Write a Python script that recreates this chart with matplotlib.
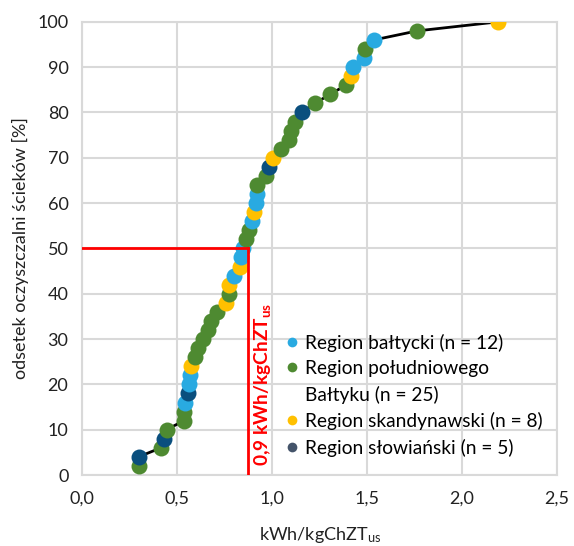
"""
Cumulative distribution of specific energy use at wastewater treatment plants,
coloured by region, with the median marked in red.
"""

import matplotlib.pyplot as plt
from matplotlib.lines import Line2D

plt.rcParams["font.family"] = ["Lato", "DejaVu Sans"]
plt.rcParams["mathtext.default"] = "regular"

# Share of plants [%] and energy use [kWh/kgChZT_us], sorted ascending
share = list(range(2, 101, 2))
energy = [
    0.296, 0.296, 0.414, 0.430, 0.444, 0.535, 0.535, 0.542, 0.555, 0.560,
    0.567, 0.572, 0.593, 0.610, 0.637, 0.660, 0.680, 0.707, 0.757, 0.773,
    0.774, 0.800, 0.830, 0.835, 0.845, 0.862, 0.878, 0.892, 0.904, 0.916,
    0.920, 0.922, 0.970, 0.985, 1.005, 1.049, 1.090, 1.100, 1.120, 1.155,
    1.225, 1.304, 1.388, 1.414, 1.423, 1.483, 1.490, 1.535, 1.763, 2.190,
]
# Region code of every plant: B bałtycki, P południowego Bałtyku,
# S skandynawski, L słowiański
region = list(
    "PLPLPPPBLBBSPPPPPPSPSBSBBPPBSBBPPLSPPPPLPPPSBBPBPS"
)

median_x = 0.87
median_y = 50

region_colors = {"B": "#29AAE1", "P": "#4E8A31", "S": "#FFC000", "L": "#0A4F7E"}

# Legend rows; the long southern-Baltic label wraps onto a row without a marker
legend_labels = [
    "Region bałtycki (n = 12)",
    "Region południowego",
    "Bałtyku (n = 25)",
    "Region skandynawski (n = 8)",
    "Region słowiański (n = 5)",
]
legend_colors = ["#29AAE1", "#4E8A31", "none", "#FFC000", "#44546A"]

fig = plt.figure(figsize=(5.74, 5.46), dpi=100)
ax = fig.add_axes([0.1434, 0.130, 0.827, 0.830])

# Connecting line under the markers
ax.plot(energy, share, color="black", lw=2, zorder=2)
for x, y, r in zip(energy, share, region):
    ax.plot(x, y, "o", ms=11.5, color=region_colors[r], mec="none", zorder=3)

# Median guide lines
ax.plot([0, median_x], [median_y, median_y], color="#FF0000", lw=2, zorder=4)
ax.plot([median_x, median_x], [0, median_y], color="#FF0000", lw=2, zorder=4)
label = f"{median_x:.1f}".replace(".", ",") + " kWh/kgChZT$_{us}$"
ax.text(0.95, 2.0, label, rotation=90, color="#FF0000", fontsize=13.8,
        fontweight="bold", ha="center", va="bottom", zorder=5)

ax.set_xlim(0, 2.5)
ax.set_ylim(0, 100)
ax.set_xticks([0, 0.5, 1.0, 1.5, 2.0, 2.5])
ax.set_xticklabels(["0,0", "0,5", "1,0", "1,5", "2,0", "2,5"])
ax.set_yticks(range(0, 101, 10))
ax.tick_params(length=0, labelsize=13, colors="#222222")
ax.tick_params(axis="x", pad=11.5)
ax.tick_params(axis="y", pad=10)
ax.grid(True, color="#D9D9D9", lw=1.5, zorder=0)
ax.set_axisbelow(True)
for spine in ax.spines.values():
    spine.set_color("#D9D9D9")
    spine.set_linewidth(1.5)

ax.set_xlabel("kWh/kgChZT$_{us}$", fontsize=13, color="#222222", labelpad=13)
ax.set_ylabel("odsetek oczyszczalni ścieków [%]", fontsize=13,
              color="#222222", labelpad=6)

handles = [
    Line2D([], [], marker="o", ls="none", ms=7, color=c, mec="none")
    for c in legend_colors
]
ax.legend(handles, legend_labels, loc="upper left",
          bbox_to_anchor=(0.43, 0.312), frameon=False, fontsize=13.8,
          handlelength=0.6, handletextpad=0.35, labelspacing=0.44,
          borderaxespad=0, borderpad=0)

fig.savefig("out.png", dpi=100)
